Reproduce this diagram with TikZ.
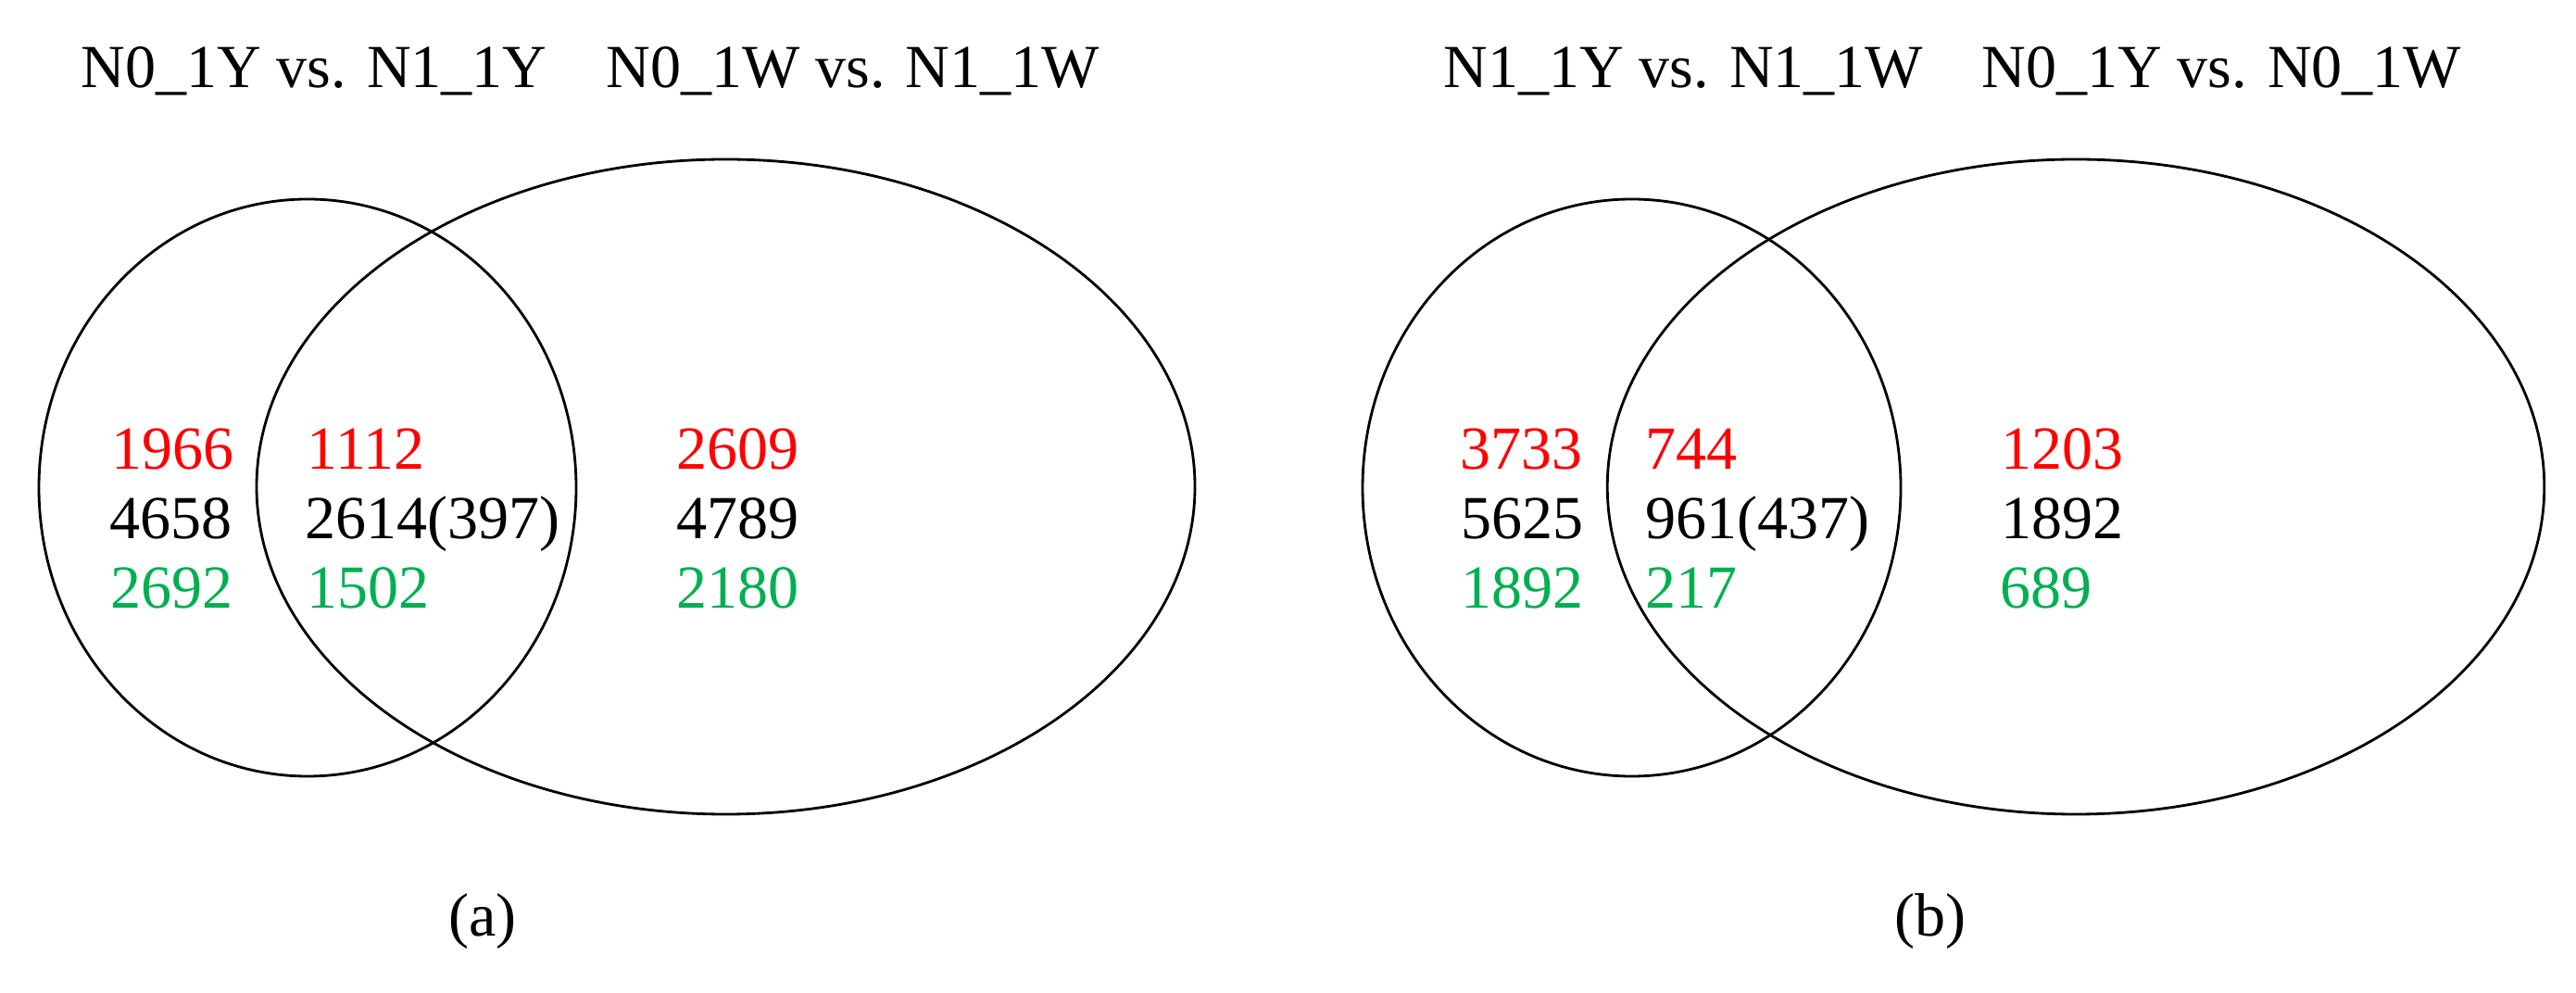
\documentclass[tikz,border=0pt]{standalone}
\usepackage{fontspec}
\setmainfont{Liberation Serif}
\usetikzlibrary{shapes.geometric}
\definecolor{vred}{RGB}{255,0,0}
\definecolor{vgreen}{RGB}{0,176,80}
\begin{document}
\begin{tikzpicture}[
  set/.style={draw=black, line width=0.8pt, ellipse, inner sep=0pt},
  lbl/.style={anchor=base west, inner sep=0pt, font=\fontsize{18.8}{22}\selectfont},
  up/.style={lbl, text=vred},
  mid/.style={lbl, text=black},
  down/.style={lbl, text=vgreen},
  sublabel/.style={anchor=base, inner sep=0pt, font=\fontsize{18.8}{22}\selectfont}
]
\useasboundingbox (0,0) rectangle (27.81,-10.72);
% panel (a)
\node[set, minimum width=5.80cm, minimum height=6.23cm] (a1) at (3.32,-5.265) {};
\node[set, minimum width=10.13cm, minimum height=7.07cm] (a2) at (7.835,-5.255) {};
\node[lbl] (ta1) at (0.87,-0.95) {N0\_1Y vs. N1\_1Y};
\node[lbl] (ta2) at (6.54,-0.95) {N0\_1W vs. N1\_1W};
\node[up]   (a11) at (1.20,-5.07) {1966};
\node[mid]  (a12) at (1.18,-5.82) {4658};
\node[down] (a13) at (1.19,-6.57) {2692};
\node[up]   (a21) at (3.31,-5.07) {1112};
\node[mid]  (a22) at (3.29,-5.82) {2614(397)};
\node[down] (a23) at (3.31,-6.57) {1502};
\node[up]   (a31) at (7.30,-5.07) {2609};
\node[mid]  (a32) at (7.30,-5.82) {4789};
\node[down] (a33) at (7.30,-6.57) {2180};
\node[sublabel] (capa) at (5.21,-10.10) {(a)};
% panel (b)
\node[set, minimum width=5.81cm, minimum height=6.23cm] (b1) at (17.615,-5.265) {};
\node[set, minimum width=10.115cm, minimum height=7.07cm] (b2) at (22.41,-5.255) {};
\node[lbl] (tb1) at (15.58,-0.95) {N1\_1Y vs. N1\_1W};
\node[lbl] (tb2) at (21.39,-0.95) {N0\_1Y vs. N0\_1W};
\node[up]   (b11) at (15.76,-5.07) {3733};
\node[mid]  (b12) at (15.77,-5.82) {5625};
\node[down] (b13) at (15.77,-6.57) {1892};
\node[up]   (b21) at (17.76,-5.07) {744};
\node[mid]  (b22) at (17.76,-5.82) {961(437)};
\node[down] (b23) at (17.76,-6.57) {217};
\node[up]   (b31) at (21.60,-5.07) {1203};
\node[mid]  (b32) at (21.60,-5.82) {1892};
\node[down] (b33) at (21.59,-6.57) {689};
\node[sublabel] (capb) at (20.84,-10.10) {(b)};
\end{tikzpicture}
\end{document}
